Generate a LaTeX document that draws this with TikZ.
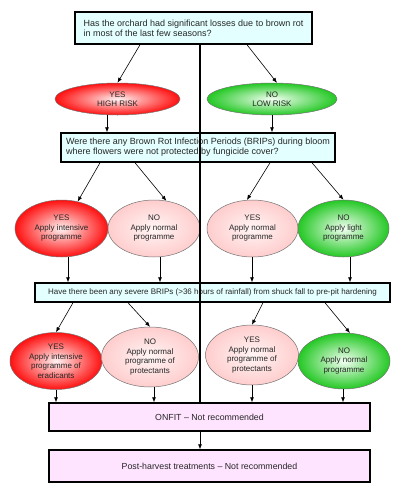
\documentclass[tikz,border=0pt]{standalone}
\usepackage{fontspec}
\setmainfont{Liberation Sans}
\usetikzlibrary{arrows.meta,shapes.geometric,shadows}

\definecolor{boxcyan}{RGB}{228,255,255}
\definecolor{boxpink}{RGB}{255,228,255}
\definecolor{riskred}{RGB}{255,16,16}
\definecolor{palepink}{RGB}{255,205,205}
\definecolor{riskgreen}{RGB}{36,200,36}

\begin{document}
\begin{tikzpicture}[x=1pt, y=-1pt, every node/.style={text=black!85}, >={Latex[length=5pt, width=4pt]},
	qbox/.style={draw, line width=1.5pt, fill=boxcyan, inner sep=0pt,
		drop shadow={shadow xshift=1pt, shadow yshift=-1pt, fill=black!45, opacity=0.7}},
	endbox/.style={draw, line width=1.5pt, fill=boxpink, inner sep=0pt, minimum width=321pt,
		font=\fontsize{8.8}{10}\selectfont},
	risk/.style={ellipse, draw=black!55, line width=0.5pt, inner sep=0pt, align=center,
		font=\fontsize{8}{9.5}\selectfont},
	high/.style={risk, inner color=red!5, outer color=riskred},
	mid/.style={risk, inner color=red!4, outer color=palepink},
	low/.style={risk, inner color=green!5, outer color=riskgreen},
	link/.style={->, line width=0.6pt}]
	\useasboundingbox (0,0) rectangle (400,501);
	% questions
	\node[qbox, minimum width=237pt, minimum height=32pt, align=left, font=\fontsize{9}{10}\selectfont] (orchard) at (193.5,28)
		{Has the orchard had significant losses due to brown rot\\in most of the last few seasons?};
	\node[qbox, minimum width=274pt, minimum height=29pt, align=left, font=\fontsize{9}{10}\selectfont] (bloom) at (198,147.5)
		{Were there any Brown Rot Infection Periods (BRIPs) during bloom\\where flowers were not protected by fungicide cover?};
	\node[qbox, minimum width=355pt, minimum height=19pt, font=\fontsize{8}{9.5}\selectfont] (shuck) at (212.5,292.5)
		{Have there been any severe BRIPs (>36 hours of rainfall) from shuck fall to pre-pit hardening};
	\node[endbox, minimum height=28pt] (onfit) at (209.5,417) {ONFIT – Not recommended};
	\node[endbox, minimum height=32pt] (postharvest) at (209.5,466) {Post-harvest treatments – Not recommended};
	% risk level
	\node[high, minimum width=125pt, minimum height=32pt] (highrisk) at (117.5,99) {YES\\HIGH RISK};
	\node[low, minimum width=130pt, minimum height=32pt] (lowrisk) at (272,99) {NO\\LOW RISK};
	% bloom
	\node[high, minimum width=93pt, minimum height=57pt] (intensive) at (61.5,228.5) {YES\\Apply intensive\\programme};
	\node[mid, minimum width=92pt, minimum height=57pt] (normalA) at (154,228.5) {NO\\Apply normal\\programme};
	\node[mid, minimum width=91pt, minimum height=57pt] (normalB) at (252.5,228.5) {YES\\Apply normal\\programme};
	\node[low, minimum width=91pt, minimum height=57pt] (light) at (343.5,228.5) {NO\\Apply light\\programme};
	% shuck fall
	\node[high, minimum width=92pt, minimum height=57pt] (eradicants) at (56,361) {YES\\Apply intensive\\programme of\\eradicants};
	\node[mid, minimum width=97pt, minimum height=60pt] (protectA) at (150,357) {NO\\Apply normal\\programme of\\protectants};
	\node[mid, minimum width=93pt, minimum height=60pt] (protectB) at (252,355) {YES\\Apply normal\\programme of\\protectants};
	\node[low, minimum width=92pt, minimum height=56pt] (normalC) at (344,361) {NO\\Apply normal\\programme};
	% connectors
	\draw[link] ([xshift=-53.5pt]orchard.south) -- (highrisk.north);
	\draw[link] ([xshift=53.5pt]orchard.south) -- (lowrisk.73);
	\draw[link] (highrisk.south -| 107,0) -- (bloom.north -| 107,0);
	\draw[link] (lowrisk.south -| 272,0) -- (bloom.north -| 272,0);
	\draw[link] ([xshift=-98pt]bloom.south) -- (intensive.59);
	\draw[link] ([xshift=-63pt]bloom.south) -- (normalA.66);
	\draw[link] ([xshift=72pt]bloom.south) -- (normalB.101);
	\draw[link] ([xshift=114pt]bloom.south) -- (light.north);
	\draw[link] (intensive.south -| 68,0) -- (shuck.north -| 68,0);
	\draw[link] (normalA.south -| 160,0) -- (shuck.north -| 160,0);
	\draw[link] (normalB.south -| 252,0) -- (shuck.north -| 252,0);
	\draw[link] (light.south -| 350,0) -- (shuck.north -| 350,0);
	\draw[link] ([xshift=-139.5pt]shuck.south) -- (eradicants.north);
	\draw[link] ([xshift=-84.5pt]shuck.south) -- (protectA.north);
	\draw[link] ([xshift=50.5pt]shuck.south) -- (protectB.north);
	\draw[link] ([xshift=112.5pt]shuck.south) -- (normalC.78);
	\draw[link] (eradicants.south -| 56,0) -- (onfit.north -| 56,0);
	\draw[link] (protectA.south -| 154,0) -- (onfit.north -| 154,0);
	\draw[link] (protectB.south -| 252,0) -- (onfit.north -| 252,0);
	\draw[link] (normalC.south -| 343,0) -- (onfit.north -| 343,0);
	\draw[line width=1.6pt] (orchard.south -| 200,0) -- (onfit.north -| 200,0);
	\draw[link] (onfit.south -| 200,0) -- (postharvest.north -| 200,0);
\end{tikzpicture}
\end{document}
